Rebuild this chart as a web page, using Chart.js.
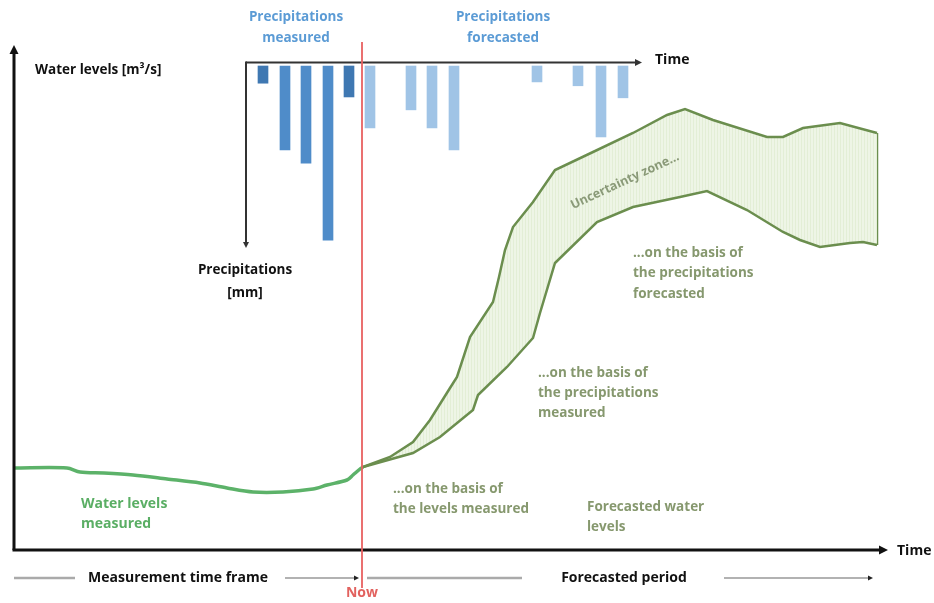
<!DOCTYPE html>
<html><head><meta charset="utf-8">
<script src="https://cdn.jsdelivr.net/npm/chart.js@4/dist/chart.umd.min.js"></script>
<style>html,body{margin:0;padding:0;background:#fff}#wrap{width:934px;height:603px;position:relative}</style>
</head><body><div id="wrap"><canvas id="c" width="934" height="603"></canvas></div>
<script>
// ---- data (time in arbitrary units, water level in arbitrary units, precipitation in mm) ----
const nowTime = 348;
const precipMeasuredTime = [249, 271, 292, 314, 335];
const precipMeasuredMm   = [4.0, 19.5, 22.6, 40.5, 7.2];
const precipForecastTime = [356, 397, 418, 440, 523, 564, 587, 609];
const precipForecastMm   = [14.4, 10.2, 14.4, 19.5, 3.7, 4.6, 16.5, 7.4];

const levelMeasuredTime = [0, 53, 66, 90, 119, 153, 186, 213, 239, 269, 299, 313, 333, 339, 346, 349];
const levelMeasured     = [82, 82, 78, 77, 75, 71, 67, 62, 58, 58, 61, 65, 70, 75, 81, 83];

const upperTime = [349, 376, 399, 416, 436, 443, 456, 479, 485, 491, 499, 519, 541, 579, 619, 653, 671, 699, 753, 769, 789, 826, 863];
const upperLevel = [83, 93, 108, 130, 162, 173, 213, 248, 273, 300, 323, 348, 380, 398, 417, 435, 441, 430, 413, 413, 422, 427, 417];
const lowerTime = [349, 399, 426, 459, 464, 493, 519, 526, 541, 583, 619, 666, 693, 733, 769, 786, 806, 836, 849, 863];
const lowerLevel = [83, 97, 113, 140, 155, 183, 212, 237, 287, 328, 343, 353, 359, 340, 318, 310, 303, 307, 308, 305];

const pts = (xs, ys) => xs.map((x, i) => ({x, y: ys[i]}));

// hatch pattern for uncertainty zone
function hatch() {
  const c = document.createElement('canvas'); c.width = 3; c.height = 3;
  const g = c.getContext('2d');
  g.fillStyle = '#eef5e6'; g.fillRect(0, 0, 3, 3);
  g.fillStyle = '#e3eed6'; g.fillRect(0, 0, 1, 3);
  return g.createPattern(c, 'repeat');
}

const FONT = '"Open Sans", sans-serif';
const OLIVE = '#86986e';

function arrowHead(ctx, x, y, dir, size, color) {
  ctx.save(); ctx.fillStyle = color; ctx.beginPath();
  if (dir === 'up') { ctx.moveTo(x, y); ctx.lineTo(x - size / 2, y + size); ctx.lineTo(x + size / 2, y + size); }
  if (dir === 'down') { ctx.moveTo(x, y); ctx.lineTo(x - size / 2, y - size); ctx.lineTo(x + size / 2, y - size); }
  if (dir === 'right') { ctx.moveTo(x, y); ctx.lineTo(x - size, y - size / 2); ctx.lineTo(x - size, y + size / 2); }
  ctx.closePath(); ctx.fill(); ctx.restore();
}
function line(ctx, x1, y1, x2, y2, color, w) {
  ctx.save(); ctx.strokeStyle = color; ctx.lineWidth = w; ctx.beginPath();
  ctx.moveTo(x1, y1); ctx.lineTo(x2, y2); ctx.stroke(); ctx.restore();
}
function text(ctx, lines, x, y, color, align, size, lh) {
  ctx.save(); ctx.fillStyle = color; ctx.font = 'bold ' + size + 'px ' + FONT;
  ctx.textAlign = align; ctx.textBaseline = 'middle';
  lines.forEach((s, i) => ctx.fillText(s, x, y + i * lh));
  ctx.restore();
}

const decor = {
  id: 'decor',
  afterDatasetsDraw(chart) {
    const ctx = chart.ctx, xs = chart.scales.x, ys = chart.scales.y, yp = chart.scales.yP;
    const x0 = xs.getPixelForValue(0), yb = ys.getPixelForValue(0);
    const top = chart.chartArea.top, right = chart.chartArea.right;
    // main axes
    line(ctx, x0, yb, x0, top + 8, '#111', 3);
    arrowHead(ctx, x0, top, 'up', 9, '#111');
    line(ctx, x0 - 1.5, yb, right - 8, yb, '#111', 3);
    arrowHead(ctx, right, yb, 'right', 9, '#111');
    // precipitation axes
    const py0 = yp.getPixelForValue(0) - 3.5;
    const px0 = xs.getPixelForValue(232), px1 = xs.getPixelForValue(628);
    line(ctx, px0, py0, px1 - 6, py0, '#333', 2);
    arrowHead(ctx, px1, py0, 'right', 7, '#333');
    const pyEnd = yp.getPixelForValue(42.3);
    line(ctx, px0, py0 - 1, px0, pyEnd - 5, '#333', 2);
    arrowHead(ctx, px0, pyEnd, 'down', 6, '#333');
    // now line
    const nx = xs.getPixelForValue(nowTime);
    line(ctx, nx, 42, nx, 588, 'rgba(232,96,96,0.9)', 2);

    // labels
    text(ctx, ['Water levels [m\u00b3/s]'], 35, 70, '#111', 'left', 13.5, 20);
    text(ctx, ['Time'], 655, 60, '#111', 'left', 14, 20);
    text(ctx, ['Time'], 897, 551, '#111', 'left', 14, 20);
    text(ctx, ['Precipitations', '[mm]'], 245, 270, '#111', 'center', 13.5, 23);
    text(ctx, ['Precipitations', 'measured'], 296, 17, '#5b9bd5', 'center', 13.5, 21);
    text(ctx, ['Precipitations', 'forecasted'], 503, 17, '#5b9bd5', 'center', 13.5, 21);
    text(ctx, ['Water levels', 'measured'], 81, 504, '#5aae64', 'left', 14, 20);
    text(ctx, ['...on the basis of', 'the levels measured'], 393, 489, OLIVE, 'left', 13.5, 20);
    text(ctx, ['Forecasted water', 'levels'], 587, 507, OLIVE, 'left', 13.5, 20);
    text(ctx, ['...on the basis of', 'the precipitations', 'measured'], 538, 373, OLIVE, 'left', 13.5, 20);
    text(ctx, ['...on the basis of', 'the precipitations', 'forecasted'], 633, 253, OLIVE, 'left', 13.5, 20.5);
    ctx.save(); ctx.translate(625, 181); ctx.rotate(-25 * Math.PI / 180);
    text(ctx, ['Uncertainty zone...'], 0, 0, '#8a9a78', 'center', 12.5, 20);
    ctx.restore();

    // bottom time frames
    text(ctx, ['Measurement time frame'], 178, 578, '#111', 'center', 14, 20);
    text(ctx, ['Forecasted period'], 624, 578, '#111', 'center', 14, 20);
    line(ctx, 14, 578, 75, 578, '#aaa', 2.5);
    line(ctx, 285, 578, 354, 578, '#999', 1.5);
    arrowHead(ctx, 359, 578, 'right', 5, '#222');
    line(ctx, 367, 578, 522, 578, '#aaa', 2.5);
    line(ctx, 724, 578, 868, 578, '#999', 1.5);
    arrowHead(ctx, 873, 578, 'right', 5, '#222');
    text(ctx, ['Now'], nx, 593, '#e2625f', 'center', 14, 20);
  }
};

const pxPerMm = 4.3, zeroOffset = 21, areaH = 505;
const pMin = -zeroOffset / pxPerMm, pMax = pMin + areaH / pxPerMm;

new Chart(document.getElementById('c'), {
  type: 'line',
  data: {
    datasets: [
      { type: 'bar', label: 'Precipitations measured', yAxisID: 'yP',
        data: pts(precipMeasuredTime, precipMeasuredMm),
        backgroundColor: ['#3f78b2', '#4f8cc9', '#4f8cc9', '#4f8cc9', '#3f78b2'],
        barThickness: 10, grouped: false, borderWidth: 0 },
      { type: 'bar', label: 'Precipitations forecasted', yAxisID: 'yP',
        data: pts(precipForecastTime, precipForecastMm),
        backgroundColor: '#a0c4e6', barThickness: 10, grouped: false, borderWidth: 0 },
      { label: 'Lower', data: pts(lowerTime, lowerLevel), borderColor: '#6b8e4e', borderWidth: 2.5,
        pointRadius: 0, fill: false, tension: 0 },
      { label: 'Upper', data: pts(upperTime, upperLevel), borderColor: '#6b8e4e', borderWidth: 2.5,
        pointRadius: 0, fill: '-1', backgroundColor: hatch(), tension: 0 },
      { label: 'Edge', data: [{x: upperTime[upperTime.length - 1], y: upperLevel[upperLevel.length - 1]},
                              {x: lowerTime[lowerTime.length - 1], y: lowerLevel[lowerLevel.length - 1]}],
        borderColor: '#6b8e4e', borderWidth: 2.5, pointRadius: 0, fill: false },
      { label: 'Water levels measured', data: pts(levelMeasuredTime, levelMeasured),
        borderColor: '#5cb269', borderWidth: 3.5, pointRadius: 0, fill: false, tension: 0.3 }
    ]
  },
  options: {
    responsive: false, animation: false,
    layout: { padding: { left: 14, right: 46, top: 45, bottom: 53 } },
    plugins: { legend: { display: false }, tooltip: { enabled: false } },
    scales: {
      x: { type: 'linear', min: 0, max: 874, display: false, offset: false },
      y: { type: 'linear', min: 0, max: 505, display: false },
      yP: { type: 'linear', min: pMin, max: pMax, reverse: true, display: false }
    }
  },
  plugins: [decor]
});
</script>
</body></html>
